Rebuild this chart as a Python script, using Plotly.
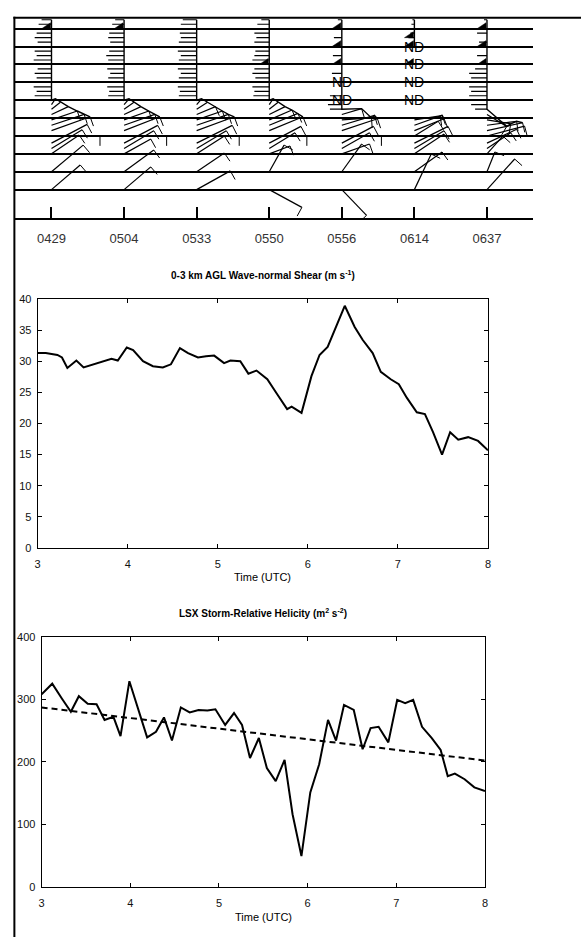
import math
import plotly.graph_objects as go

# ---------------- data ----------------
TIMES = ["0429", "0504", "0533", "0550", "0556", "0614", "0637"]

# heights (km) of the wind sticks
Z_LM = [1.0, 2.0, 3.0, 3.3, 3.6, 4.0, 4.3, 4.6, 4.9, 5.2, 5.5, 5.75]
Z_UP = [6.0, 6.25, 6.5, 6.75, 7.0, 7.25, 7.5, 7.75, 8.0, 8.25, 8.5, 8.75,
        9.0, 9.25, 9.5, 9.75, 10.0, 10.25, 10.5]

# wind-stick components (m/s) per profile, lower/middle levels
U_LM = [
    [29, 32, 28, 31, 36, 49, 39, 33, 26, 17, 9, 4],
    [27, 30, 27, 30, 34, 43, 36, 31, 25, 17, 10, 5],
    [34, 28, 28, 30, 36, 43, 38, 32, 26, 19, 11, 5],
    [33, 15, 21, 26, 32, 38, 34, 29, 23, 16, 9, 4],
    [25, 20, 28, 28, 32, 40, 36, 33, 30, 20, -12, -14],
    [17, 28, 30, 30, 34, 24, 30, 28, 26, None, None, None],
    [28, 8, 16, 24, 30, 38, 36, 30, 24, 20, -12, -16],
]
V_LM = [
    [25, 27, 19, 19, 19, 0, 14, 11, 9, 8, 7, 6],
    [23, 22, 15, 18, 18, 0, 14, 11, 9, 8, 7, 6],
    [19, 19, 18, 18, 18, 0, 14, 11, 9, 8, 7, 6],
    [-18, 27, 8, 16, 17, 0, 14, 12, 10, 8, 7, 6],
    [-26, 28, 10, 16, 17, 0, 12, 10, 2, 6, 0, 0],
    [36, 20, 20, 18, 17, 15, 12, 10, 4, None, None, None],
    [31, 20, 18, 16, 14, 10, 8, 4, -4, -12, 0, 0],
]
# upper levels: westerly component only (m/s)
U_UP = [
    [-14, -17, -15, -18, -16, -15, -17, -14, -16, -18, -15, -17, -16, -14, -17, -15, -16, -13, -10],
    [-13, -16, -15, -17, -18, -16, -14, -17, -15, -16, -18, -15, -17, -14, -16, -15, -15, -12, -9],
    [-16, -18, -17, -19, -17, -18, -16, -19, -17, -18, -16, -19, -17, -18, -16, -17, -18, -16, -14],
    [-14, -16, -15, -17, -16, -14, -17, -15, -16, -17, -15, -14, -16, -15, -13, -15, -14, -12, -8],
    [-13, -12, None, None, -18, None, -10, None, -15, None, -9, None, -15, None, -8, None, -15, None, -4],
    [None, None, None, None, None, None, None, None, -10, None, None, None, -10, None, -6, -4, -4, -3, -2],
    [-17, -18, -16, -18, -17, -16, -18, -12, -12, None, -10, None, -12, -8, None, -10, -12, None, -3],
]
FLAG_Z = [[10.0], [10.0], [], [8.0], [10.0, 9.0, 8.0], [9.5, 9.0, 8.0], [10.0, 9.0, 8.0]]
ND_Z = [[], [], [], [], [7.0, 6.0], [9.0, 8.0, 7.0, 6.0], []]

SHEAR_T = [3.0, 3.09, 3.22, 3.27, 3.33, 3.38, 3.43, 3.51, 3.60, 3.71, 3.82, 3.89, 3.99, 4.06,
           4.17, 4.28, 4.39, 4.48, 4.58, 4.67, 4.78, 4.87, 4.96, 5.07, 5.14, 5.25, 5.34, 5.43,
           5.55, 5.66, 5.77, 5.82, 5.93, 6.04, 6.13, 6.22, 6.31, 6.41, 6.52, 6.61, 6.72, 6.81,
           6.92, 7.01, 7.10, 7.21, 7.30, 7.39, 7.49, 7.58, 7.67, 7.78, 7.89, 8.0]
SHEAR = [31.3, 31.3, 31.0, 30.6, 28.9, 29.5, 30.1, 29.0, 29.4, 29.9, 30.4, 30.1, 32.2, 31.8,
         30.0, 29.2, 29.0, 29.5, 32.1, 31.3, 30.6, 30.8, 30.9, 29.7, 30.1, 30.0, 28.0, 28.5,
         27.1, 24.7, 22.3, 22.7, 21.7, 27.6, 31.0, 32.3, 35.5, 38.9, 35.5, 33.4, 31.3, 28.3,
         27.1, 26.3, 24.1, 21.8, 21.5, 18.6, 15.0, 18.6, 17.4, 17.8, 17.2, 15.7]

SRH_T = [3.0, 3.12, 3.23, 3.33, 3.42, 3.52, 3.62, 3.71, 3.81, 3.89, 3.99, 4.09, 4.19, 4.29,
         4.38, 4.47, 4.57, 4.67, 4.77, 4.87, 4.96, 5.07, 5.17, 5.26, 5.35, 5.45, 5.54, 5.64,
         5.74, 5.83, 5.93, 6.03, 6.13, 6.23, 6.32, 6.41, 6.52, 6.62, 6.71, 6.80, 6.91, 7.01,
         7.10, 7.19, 7.29, 7.40, 7.50, 7.58, 7.66, 7.77, 7.88, 8.0]
SRH = [308, 325, 301, 280, 305, 293, 292, 267, 272, 241, 329, 283, 239, 248,
       271, 234, 287, 279, 283, 282, 284, 259, 278, 259, 206, 238, 190, 169,
       203, 116, 49, 151, 196, 267, 234, 291, 283, 220, 254, 256, 231, 299,
       294, 299, 256, 238, 219, 177, 181, 172, 159, 153]
TREND_T = [3.0, 8.0]
TREND = [287, 202]

# ---------------- layout helpers ----------------
W, H = 584, 943
FONT = "Liberation Sans, Arial, sans-serif"


def dx(a, b):
    return [a / W, b / W]


def dy(top, bottom):
    return [(H - bottom) / H, (H - top) / H]


# top panel pixel scales (px per profile step, px per km)
SX = 73.33
SZ = 18.11

sx, sy, fx, fy, spx, spy, flx, fly = ([] for _ in range(8))
nd_points = []
for p in range(len(TIMES)):
    levels = []
    for z, u, v in zip(Z_LM, U_LM[p], V_LM[p]):
        if u is not None:
            levels.append((z, u, v))
    for z, u in zip(Z_UP, U_UP[p]):
        if u is not None:
            levels.append((z, u, 0))
    spine = []
    for z, u, v in levels:
        x1 = p + u / SX
        z1 = z + v / SZ
        sx += [p, x1, None]
        sy += [z, z1, None]
        spd = math.hypot(u, v)
        if spd >= 20:
            ex, ez = v / spd * 10, -u / spd * 10
            fx += [x1, x1 + ex / SX, None]
            fy += [z1, z1 + ez / SZ, None]
        if z >= 4.3:
            spine.append(((x1, z1) if u > 0 else (p, z), z))
    prev = None
    for (xx, yy), z in spine:
        if prev is not None and z - prev > 0.8:
            spx.append(None)
            spy.append(None)
        spx.append(xx)
        spy.append(yy)
        prev = z
    spx.append(None)
    spy.append(None)
    for z in FLAG_Z[p]:
        flx += [p - 1 / SX, p - 10 / SX, p - 1 / SX, p - 1 / SX, None]
        fly += [z, z, z + 6 / SZ, z, None]
    for z in ND_Z[p]:
        nd_points.append((p, z))

fig = go.Figure()

# top panel traces
fig.add_trace(go.Scatter(x=sx, y=sy, mode="lines", line=dict(color="black", width=1.2),
                         xaxis="x3", yaxis="y3", hoverinfo="skip"))
fig.add_trace(go.Scatter(x=fx, y=fy, mode="lines", line=dict(color="black", width=1),
                         xaxis="x3", yaxis="y3", hoverinfo="skip"))
fig.add_trace(go.Scatter(x=spx, y=spy, mode="lines", line=dict(color="black", width=1.4),
                         xaxis="x3", yaxis="y3", hoverinfo="skip"))
fig.add_trace(go.Scatter(x=flx, y=fly, mode="lines", fill="toself", fillcolor="black",
                         line=dict(color="black", width=0.5),
                         xaxis="x3", yaxis="y3", hoverinfo="skip"))

# middle panel
fig.add_trace(go.Scatter(x=SHEAR_T, y=SHEAR, mode="lines", line=dict(color="black", width=2),
                         xaxis="x", yaxis="y"))
# bottom panel
fig.add_trace(go.Scatter(x=SRH_T, y=SRH, mode="lines", line=dict(color="black", width=2),
                         xaxis="x2", yaxis="y2"))
fig.add_trace(go.Scatter(x=TREND_T, y=TREND, mode="lines",
                         line=dict(color="black", width=2, dash="6px,4px"),
                         xaxis="x2", yaxis="y2"))

tickfont = dict(family=FONT, size=11, color="#111")
common = dict(showline=True, linecolor="black", linewidth=1, mirror="ticks", ticks="inside",
              ticklen=4, tickcolor="black", showgrid=False, zeroline=False, tickfont=tickfont,
              fixedrange=True)

fig.update_layout(
    width=W, height=H, margin=dict(l=0, r=0, t=0, b=0),
    paper_bgcolor="white", plot_bgcolor="white", showlegend=False,
    xaxis=dict(domain=dx(35, 490), range=[3, 8], tickvals=[3, 4, 5, 6, 7, 8],
               anchor="y", ticklabelstandoff=6, **common),
    yaxis=dict(domain=dy(296.7, 549), range=[0, 40], tickvals=list(range(0, 41, 5)),
               anchor="x", ticklabelstandoff=3, **common),
    xaxis2=dict(domain=dx(39, 487), range=[3, 8], tickvals=[3, 4, 5, 6, 7, 8],
                anchor="y2", ticklabelstandoff=6, **common),
    yaxis2=dict(domain=dy(639, 892), range=[0, 400], tickvals=[0, 100, 200, 300, 400],
                anchor="x2", ticklabelstandoff=3, **common),
    xaxis3=dict(domain=dx(12, 535), range=[-37 / SX, 6 + 46 / SX],
                tickvals=list(range(len(TIMES))), ticktext=TIMES,
                showline=True, linecolor="black", linewidth=1.5, ticks="inside", ticklen=12,
                tickwidth=1.5, tickcolor="black", showgrid=False, zeroline=False,
                tickfont=dict(family=FONT, size=13, color="#333"), ticklabelstandoff=7,
                anchor="y3", fixedrange=True),
    yaxis3=dict(domain=dy(12, 215), range=[-10.9 / SZ, 192.1 / SZ],
                tickvals=list(range(1, 11)), showticklabels=False, ticks="",
                showgrid=True, gridcolor="black", gridwidth=1.5, showline=False,
                zeroline=False, anchor="x3", fixedrange=True),
)

# "no data" labels
for p, z in nd_points:
    fig.add_annotation(xref="x3", yref="y3", x=p, y=z, text="ND", showarrow=False,
                       xanchor="center", yanchor="middle",
                       font=dict(family=FONT, size=14, color="black"))

ann = [
    dict(text="<b>0-3 km AGL Wave-normal Shear (m s<sup>-1</sup>)</b>", x=262.5 / W, y=(H - 272) / H,
         font=dict(family=FONT, size=10, color="black")),
    dict(text="Time (UTC)", x=262.5 / W, y=(H - 578) / H, font=dict(family=FONT, size=11, color="black")),
    dict(text="<b>LSX Storm-Relative Helicity (m<sup>2</sup> s<sup>-2</sup>)</b>", x=263 / W, y=(H - 615) / H,
         font=dict(family=FONT, size=10, color="black")),
    dict(text="Time (UTC)", x=263 / W, y=(H - 923) / H, font=dict(family=FONT, size=11, color="black")),
]
for a in ann:
    fig.add_annotation(xref="paper", yref="paper", showarrow=False, xanchor="center",
                       yanchor="middle", **a)

# outer frame lines (left and top)
fig.add_shape(type="line", xref="paper", yref="paper", x0=11.5 / W, x1=11.5 / W,
              y0=0, y1=(H - 11) / H, line=dict(color="black", width=2))
fig.add_shape(type="line", xref="paper", yref="paper", x0=10.5 / W, x1=1,
              y0=(H - 12) / H, y1=(H - 12) / H, line=dict(color="black", width=2))

fig.write_html("out.html",
               post_script="document.body.style.margin='0';document.body.style.padding='0';")
